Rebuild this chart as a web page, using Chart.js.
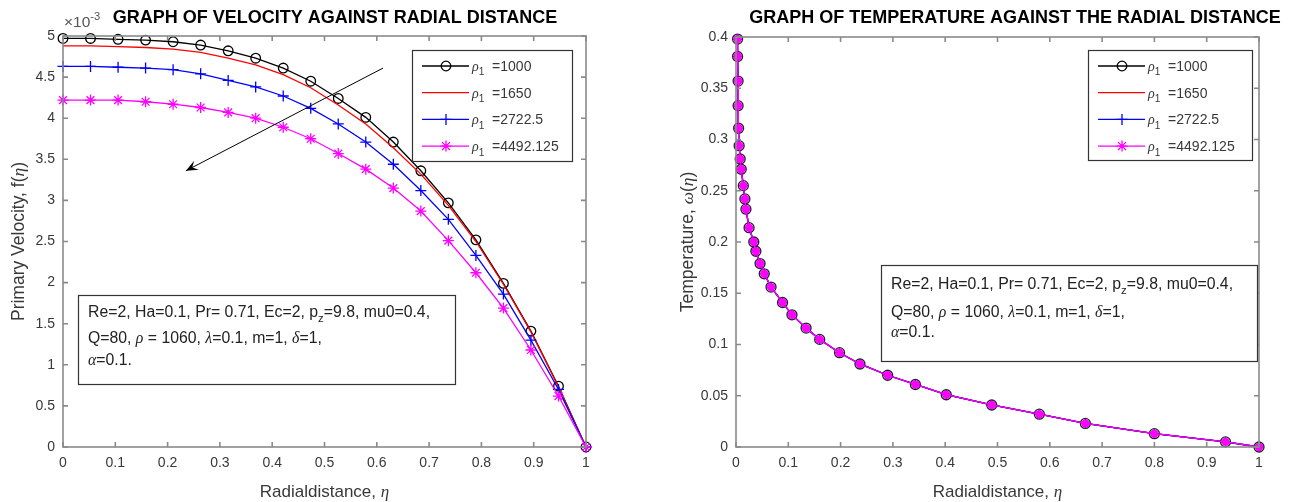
<!DOCTYPE html>
<html><head><meta charset="utf-8">
<script src="https://cdn.jsdelivr.net/npm/chart.js@4.4.1/dist/chart.umd.min.js"></script>
<style>
html,body{margin:0;padding:0;background:#fff;width:1295px;height:502px;overflow:hidden}
#w1{position:absolute;left:0;top:0;width:648px;height:502px}
#w2{position:absolute;left:648px;top:0;width:647px;height:502px}
</style></head>
<body>
<div id="w1"><canvas id="c1" width="648" height="502"></canvas></div>
<div id="w2"><canvas id="c2" width="647" height="502"></canvas></div>
<script>
// ---------- DATA ----------
// Left panel: primary velocity f(eta), values in units of 1e-3
const etaVel = [0, 0.0526, 0.1053, 0.1579, 0.2105, 0.2632, 0.3158, 0.3684, 0.4211, 0.4737, 0.5263, 0.5789, 0.6316, 0.6842, 0.7368, 0.7895, 0.8421, 0.8947, 0.9474, 1];
const velRho1000 = [4.97, 4.97, 4.96, 4.95, 4.93, 4.89, 4.82, 4.73, 4.61, 4.45, 4.24, 4.01, 3.71, 3.36, 2.97, 2.52, 1.99, 1.41, 0.74, 0];
const velRho1650 = [4.88, 4.88, 4.87, 4.86, 4.84, 4.80, 4.73, 4.65, 4.53, 4.37, 4.16, 3.93, 3.64, 3.32, 2.94, 2.50, 1.98, 1.40, 0.73, 0];
const velRho2722 = [4.63, 4.63, 4.62, 4.61, 4.59, 4.54, 4.46, 4.38, 4.27, 4.12, 3.93, 3.71, 3.44, 3.12, 2.77, 2.33, 1.86, 1.30, 0.70, 0];
const velRho4492 = [4.22, 4.22, 4.22, 4.20, 4.17, 4.13, 4.07, 4.00, 3.89, 3.75, 3.57, 3.38, 3.15, 2.87, 2.51, 2.12, 1.69, 1.18, 0.62, 0];
// Right panel: temperature omega(eta) (identical for all four rho_1)
const etaTemp = [0.003, 0.003, 0.004, 0.004, 0.005, 0.006, 0.008, 0.010, 0.014, 0.017, 0.019, 0.025, 0.034, 0.038, 0.046, 0.054, 0.067, 0.089, 0.107, 0.134, 0.160, 0.198, 0.237, 0.290, 0.343, 0.402, 0.489, 0.580, 0.668, 0.800, 0.936, 1];
const tempOmega = [0.398, 0.381, 0.357, 0.333, 0.311, 0.294, 0.281, 0.271, 0.255, 0.242, 0.232, 0.214, 0.200, 0.191, 0.179, 0.169, 0.156, 0.141, 0.129, 0.116, 0.105, 0.092, 0.081, 0.070, 0.061, 0.051, 0.041, 0.032, 0.023, 0.013, 0.005, 0];
// Legend labels
const rhoLabels = ['=1000', '=1650', '=2722.5', '=4492.125'];
// Tick values
const xTicks = [0, 0.1, 0.2, 0.3, 0.4, 0.5, 0.6, 0.7, 0.8, 0.9, 1];
const xTickLabels = ['0', '0.1', '0.2', '0.3', '0.4', '0.5', '0.6', '0.7', '0.8', '0.9', '1'];
const yVelTicks = [0, 0.5, 1, 1.5, 2, 2.5, 3, 3.5, 4, 4.5, 5];
const yVelTickLabels = ['0', '0.5', '1', '1.5', '2', '2.5', '3', '3.5', '4', '4.5', '5'];
const yTempTicks = [0, 0.05, 0.1, 0.15, 0.2, 0.25, 0.3, 0.35, 0.4];
const yTempTickLabels = ['0', '0.05', '0.1', '0.15', '0.2', '0.25', '0.3', '0.35', '0.4'];
// Arrow annotation (data coords, left panel): from -> to
const arrowFrom = [0.612, 4.61];
const arrowTo = [0.235, 3.36];

// ---------- STYLE ----------
const SANS = '"Liberation Sans", Arial, Helvetica, sans-serif';
const SERIF = '"Liberation Serif", "DejaVu Serif", serif';
const AXC = '#8a8a8a';
const TXC = '#383838';
const COLORS = ['#000000', '#ff0000', '#0000ff', '#ff00ff'];
const MARKERS = ['circle', null, 'plus', 'star'];

function pts(xs, ys) { return xs.map((x, i) => ({x: x, y: ys[i]})); }

function drawRich(ctx, segs, x, y, size, align) {
  const fontOf = s => {
    const sz = (s.sub || s.sup) ? size * 0.72 : size;
    return s.g ? ('italic ' + sz + 'px ' + SERIF) : (sz + 'px ' + SANS);
  };
  let total = 0;
  segs.forEach(s => { ctx.font = fontOf(s); s._w = ctx.measureText(s.t).width; total += s._w; });
  let cx = align === 'center' ? x - total / 2 : x;
  ctx.textAlign = 'left';
  ctx.textBaseline = 'alphabetic';
  segs.forEach(s => {
    ctx.font = fontOf(s);
    let dy = 0;
    if (s.sub) dy = size * 0.32;
    if (s.sup) dy = -size * 0.45;
    ctx.fillText(s.t, cx, y + dy);
    cx += s._w;
  });
  return total;
}

function marker(ctx, type, x, y, r, color) {
  ctx.save();
  ctx.strokeStyle = color; ctx.lineWidth = 1.3;
  ctx.beginPath();
  if (type === 'circle') { ctx.arc(x, y, r, 0, Math.PI * 2); }
  if (type === 'plus' || type === 'star') { ctx.moveTo(x - r, y); ctx.lineTo(x + r, y); ctx.moveTo(x, y - r); ctx.lineTo(x, y + r); }
  if (type === 'star') { const d = r * 0.72; ctx.moveTo(x - d, y - d); ctx.lineTo(x + d, y + d); ctx.moveTo(x - d, y + d); ctx.lineTo(x + d, y - d); }
  ctx.stroke();
  ctx.restore();
}

function drawLegend(ctx, x, y, w, h) {
  ctx.save();
  ctx.fillStyle = '#fff'; ctx.fillRect(x, y, w, h);
  ctx.strokeStyle = '#333'; ctx.lineWidth = 1.2; ctx.strokeRect(x + 0.5, y + 0.5, w, h);
  for (let i = 0; i < 4; i++) {
    const ry = y + 16 + i * 26.7;
    ctx.strokeStyle = COLORS[i]; ctx.lineWidth = 1.3;
    ctx.beginPath(); ctx.moveTo(x + 10, ry); ctx.lineTo(x + 57, ry); ctx.stroke();
    if (MARKERS[i]) marker(ctx, MARKERS[i], x + 34, ry, MARKERS[i] === 'circle' ? 4.8 : 5.5, COLORS[i]);
    ctx.fillStyle = TXC;
    drawRich(ctx, [{t: 'ρ', g: true}, {t: '1', sub: true}, {t: '  ' + rhoLabels[i]}], x + 60, ry + 5, 14, 'left');
  }
  ctx.restore();
}

function drawParamBox(ctx, x, y, w, h, lineYs) {
  ctx.save();
  ctx.fillStyle = '#fff'; ctx.fillRect(x, y, w, h);
  ctx.strokeStyle = '#333'; ctx.lineWidth = 1.2; ctx.strokeRect(x + 0.5, y + 0.5, w, h);
  ctx.fillStyle = '#222';
  const fs = 15.8;
  drawRich(ctx, [{t: 'Re=2, Ha=0.1, Pr= 0.71, Ec=2, p'}, {t: 'z', sub: true}, {t: '=9.8, mu0=0.4,'}], x + 10, lineYs[0], fs, 'left');
  drawRich(ctx, [{t: 'Q=80, '}, {t: 'ρ', g: true}, {t: ' = 1060, '}, {t: 'λ', g: true}, {t: '=0.1, m=1, '}, {t: 'δ', g: true}, {t: '=1,'}], x + 10, lineYs[1], fs, 'left');
  drawRich(ctx, [{t: 'α', g: true}, {t: '=0.1.'}], x + 10, lineYs[2], fs, 'left');
  ctx.restore();
}

function boxPlugin(cfg) {
  return {
    id: 'matlab_' + cfg.id,
    afterDatasetsDraw(chart) {
      const ctx = chart.ctx, a = chart.chartArea, xs = chart.scales.x, ys = chart.scales.y;
      ctx.save();
      // axes box with inward ticks
      ctx.strokeStyle = AXC; ctx.lineWidth = 1.6;
      ctx.strokeRect(a.left, a.top, a.right - a.left, a.bottom - a.top);
      ctx.beginPath();
      xs.ticks.forEach(t => { const px = xs.getPixelForValue(t.value); ctx.moveTo(px, a.bottom); ctx.lineTo(px, a.bottom - 5); ctx.moveTo(px, a.top); ctx.lineTo(px, a.top + 5); });
      ys.ticks.forEach(t => { const py = ys.getPixelForValue(t.value); ctx.moveTo(a.left, py); ctx.lineTo(a.left + 5, py); ctx.moveTo(a.right, py); ctx.lineTo(a.right - 5, py); });
      ctx.stroke();
      // title
      ctx.fillStyle = '#000'; ctx.font = 'bold 18px ' + SANS; ctx.textAlign = 'center'; ctx.textBaseline = 'middle';
      ctx.fillText(cfg.title, cfg.titleX, 18);
      // x title
      ctx.fillStyle = TXC;
      drawRich(ctx, [{t: 'Radialdistance, '}, {t: 'η', g: true}], (a.left + a.right) / 2, 497, 17, 'center');
      // y title rotated
      ctx.save(); ctx.translate(cfg.yTitleX, (a.top + a.bottom) / 2); ctx.rotate(-Math.PI / 2);
      drawRich(ctx, cfg.yTitle, 0, 0, 17.5, 'center');
      ctx.restore();
      if (cfg.exponent) {
        ctx.fillStyle = '#555';
        drawRich(ctx, [{t: '×10'}, {t: '-3', sup: true}], a.left + 1, 27, 15.5, 'left');
      }
      if (cfg.arrow) {
        const x0 = xs.getPixelForValue(arrowFrom[0]), y0 = ys.getPixelForValue(arrowFrom[1]);
        const x1 = xs.getPixelForValue(arrowTo[0]), y1 = ys.getPixelForValue(arrowTo[1]);
        ctx.strokeStyle = '#000'; ctx.fillStyle = '#000'; ctx.lineWidth = 1;
        ctx.beginPath(); ctx.moveTo(x0, y0); ctx.lineTo(x1, y1); ctx.stroke();
        const ang = Math.atan2(y1 - y0, x1 - x0), L = 13, W = 0.4;
        ctx.beginPath();
        ctx.moveTo(x1, y1);
        ctx.lineTo(x1 - L * Math.cos(ang - W), y1 - L * Math.sin(ang - W));
        ctx.lineTo(x1 - 0.55 * L * Math.cos(ang), y1 - 0.55 * L * Math.sin(ang));
        ctx.lineTo(x1 - L * Math.cos(ang + W), y1 - L * Math.sin(ang + W));
        ctx.closePath(); ctx.fill();
      }
      drawLegend(ctx, cfg.legend[0], cfg.legend[1], cfg.legend[2], cfg.legend[3]);
      drawParamBox(ctx, cfg.box[0], cfg.box[1], cfg.box[2], cfg.box[3], cfg.boxLines);
      ctx.restore();
    }
  };
}

function axisX() {
  return {
    type: 'linear', min: 0, max: 1,
    grid: {display: false, drawTicks: false}, border: {display: false},
    afterBuildTicks: s => { s.ticks = xTicks.map(v => ({value: v})); },
    ticks: {padding: 8, color: TXC, font: {family: SANS, size: 14}, maxRotation: 0, autoSkip: false,
      callback: (v) => xTickLabels[xTicks.indexOf(v)] ?? ''},
    afterFit: s => { s.height = 55; }
  };
}
function axisY(min, max, vals, labels, w) {
  return {
    type: 'linear', min: min, max: max,
    grid: {display: false, drawTicks: false}, border: {display: false},
    afterBuildTicks: s => { s.ticks = vals.map(v => ({value: v})); },
    ticks: {padding: 8, color: TXC, font: {family: SANS, size: 14}, autoSkip: false,
      callback: (v) => { const i = vals.findIndex(t => Math.abs(t - v) < 1e-9); return i >= 0 ? labels[i] : ''; }},
    afterFit: s => { s.width = w; }
  };
}

const commonOpts = {
  responsive: false, animation: false, devicePixelRatio: 1,
  plugins: {legend: {display: false}, tooltip: {enabled: false}, title: {display: false}},
  elements: {line: {tension: 0, borderWidth: 1.3}}
};

function ds(label, data, i, order, pointOpts) {
  return Object.assign({
    label: label, data: data, borderColor: COLORS[i], backgroundColor: COLORS[i],
    borderWidth: 1.3, showLine: true, fill: false, clip: false, order: order,
    pointRadius: 0, pointBorderWidth: 1.3, pointBackgroundColor: 'rgba(0,0,0,0)', pointBorderColor: COLORS[i]
  }, pointOpts || {});
}

new Chart(document.getElementById('c1'), {
  type: 'scatter',
  data: {datasets: [
    ds('ρ1 =1000', pts(etaVel, velRho1000), 0, 4, {pointStyle: 'circle', pointRadius: 4.8}),
    ds('ρ1 =1650', pts(etaVel, velRho1650), 1, 3),
    ds('ρ1 =2722.5', pts(etaVel, velRho2722), 2, 2, {pointStyle: 'cross', pointRadius: 5.5}),
    ds('ρ1 =4492.125', pts(etaVel, velRho4492), 3, 1, {pointStyle: 'star', pointRadius: 5.5})
  ]},
  options: Object.assign({}, commonOpts, {
    layout: {padding: {left: 0, right: 62, top: 36, bottom: 0}},
    scales: {x: axisX(), y: axisY(0, 5, yVelTicks, yVelTickLabels, 63)}
  }),
  plugins: [boxPlugin({
    id: 'a', title: 'GRAPH OF VELOCITY AGAINST RADIAL DISTANCE', titleX: 335,
    yTitle: [{t: 'Primary Velocity, f('}, {t: 'η', g: true}, {t: ')'}], yTitleX: 24,
    exponent: true, arrow: true,
    legend: [412, 50, 160, 111],
    box: [78, 295, 377, 89], boxLines: [317, 343, 365]
  })]
});

new Chart(document.getElementById('c2'), {
  type: 'scatter',
  data: {datasets: [
    ds('ρ1 =1000', pts(etaTemp, tempOmega), 0, 4, {pointStyle: 'circle', pointRadius: 5, pointBorderColor: '#222'}),
    ds('ρ1 =1650', pts(etaTemp, tempOmega), 1, 3),
    ds('ρ1 =2722.5', pts(etaTemp, tempOmega), 2, 2, {pointStyle: 'cross', pointRadius: 4.5}),
    ds('ρ1 =4492.125', pts(etaTemp, tempOmega), 3, 1, {pointStyle: 'circle', pointRadius: 4.2, pointBorderWidth: 0, pointBackgroundColor: '#ff00ff'})
  ]},
  options: Object.assign({}, commonOpts, {
    layout: {padding: {left: 0, right: 36, top: 37, bottom: 0}},
    scales: {x: axisX(), y: axisY(0, 0.4, yTempTicks, yTempTickLabels, 88)}
  }),
  plugins: [boxPlugin({
    id: 'b', title: 'GRAPH OF TEMPERATURE AGAINST THE RADIAL DISTANCE', titleX: 367,
    yTitle: [{t: 'Temperature, '}, {t: 'ω', g: true}, {t: '('}, {t: 'η', g: true}, {t: ')'}], yTitleX: 45,
    exponent: false, arrow: false,
    legend: [440, 50, 164, 110],
    box: [233, 265, 376, 96], boxLines: [289, 317, 337]
  })]
});
</script>
</body></html>
